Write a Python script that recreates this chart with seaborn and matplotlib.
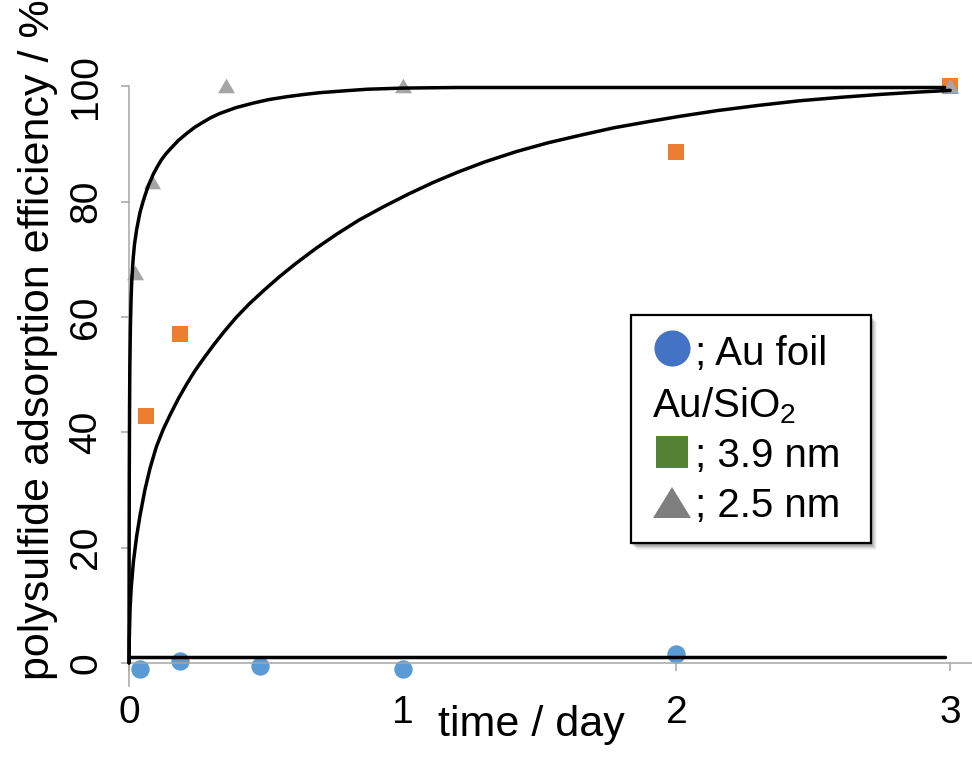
import matplotlib
matplotlib.use("Agg")
import matplotlib.pyplot as plt
import pandas as pd
import seaborn as sns
from matplotlib.patches import Rectangle, Polygon
from matplotlib.lines import Line2D

# --- measured adsorption efficiency (%) vs time (day) ---
foil_t = [0.04, 0.186, 0.48, 1.0, 2.0]
foil_eff = [-1.1, 0.3, -0.5, -1.1, 1.6]

nm39_t = [0.062, 0.186, 2.0, 3.0]
nm39_eff = [42.8, 57.1, 88.6, 100.0]

nm25_t = [0.022, 0.083, 0.354, 1.0, 3.0]
nm25_eff = [67.6, 83.4, 100.0, 100.0, 100.0]

# --- fitted kinetic curves ---
fit25_t = [0.0, 0.0005, 0.001, 0.002, 0.003, 0.005, 0.0075, 0.010, 0.015, 0.020,
           0.028, 0.040, 0.050, 0.058, 0.070, 0.089, 0.105, 0.119, 0.135, 0.150,
           0.180, 0.210, 0.240, 0.271, 0.300, 0.332, 0.390, 0.454, 0.510, 0.576,
           0.640, 0.697, 0.780, 0.870, 1.0, 1.2, 1.5, 2.0, 2.5, 2.98]
fit25_eff = [0.0, 20.0, 32.0, 44.0, 51.0, 58.0, 63.0, 66.2, 70.0, 72.6,
             75.2, 78.1, 79.8, 81.0, 82.7, 84.8, 86.2, 87.3, 88.3, 89.1,
             90.6, 91.8, 92.9, 93.8, 94.6, 95.3, 96.3, 97.1, 97.7, 98.2,
             98.6, 98.9, 99.2, 99.5, 99.7, 99.8, 99.8, 99.8, 99.8, 99.8]

fit39_t = [0.0, 0.001, 0.002, 0.004, 0.008, 0.016, 0.028, 0.040, 0.058, 0.077,
           0.100, 0.125, 0.150, 0.180, 0.210, 0.240, 0.271, 0.310, 0.350, 0.393,
           0.440, 0.490, 0.550, 0.610, 0.686, 0.760, 0.840, 0.929, 1.020, 1.110,
           1.200, 1.300, 1.416, 1.530, 1.647, 1.770, 1.900, 2.012, 2.150, 2.300,
           2.450, 2.600, 2.743, 2.880, 3.0]
fit39_eff = [0.0, 4.0, 6.0, 9.5, 13.0, 17.5, 22.0, 25.5, 30.0, 33.8,
             37.5, 40.5, 43.0, 45.8, 48.3, 50.6, 52.7, 55.2, 57.6, 60.0,
             62.3, 64.5, 67.0, 69.3, 72.0, 74.4, 76.8, 79.1, 81.3, 83.3,
             85.1, 86.9, 88.7, 90.2, 91.5, 92.8, 93.9, 94.8, 95.8, 96.7,
             97.5, 98.1, 98.6, 99.0, 99.3]

foil_fit_t = [0.0, 2.98]
foil_fit_eff = [1.0, 1.0]

x_ticks = [0, 1, 2, 3]
y_ticks = [0, 20, 40, 60, 80, 100]

sns.set_theme(style="white")
plt.rcParams["font.family"] = ["Liberation Sans", "DejaVu Sans"]
plt.rcParams["mathtext.fontset"] = "custom"
plt.rcParams["mathtext.rm"] = "Liberation Sans"
plt.rcParams["mathtext.it"] = "Liberation Sans:italic"
plt.rcParams["text.color"] = "black"
plt.rcParams["axes.labelcolor"] = "black"
plt.rcParams["xtick.color"] = "black"
plt.rcParams["ytick.color"] = "black"

W, H = 972, 762
fig = plt.figure(figsize=(W / 100, H / 100), dpi=100)
fig.patch.set_facecolor("white")

# axes placed so that x=0..3.08 spans 129..972 px and y=-4..110 spans 686..28.7 px
ax = fig.add_axes([129 / W, (H - 686) / H, (W - 129) / W, (686 - 28.7) / H])
ax.set_facecolor("white")
ax.set_xlim(0, 3.08)
ax.set_ylim(-4, 110)

tri = [(-1.0, -0.8), (1.0, -0.8), (0.0, 0.92)]

df_foil = pd.DataFrame({"t": foil_t, "eff": foil_eff})
df_39 = pd.DataFrame({"t": nm39_t, "eff": nm39_eff})
df_25 = pd.DataFrame({"t": nm25_t, "eff": nm25_eff})

sns.scatterplot(data=df_foil, x="t", y="eff", ax=ax, color="#5B9BD5", marker="o",
                s=175, linewidth=0, zorder=2, clip_on=False)
sns.scatterplot(data=df_39, x="t", y="eff", ax=ax, color="#ED7D31", marker="s",
                s=130, linewidth=0, zorder=2, clip_on=False)
sns.scatterplot(data=df_25, x="t", y="eff", ax=ax, color="#A5A5A5", marker=tri,
                s=150, linewidth=0, zorder=2, clip_on=False)

for tt, ee in [(fit25_t, fit25_eff), (fit39_t, fit39_eff), (foil_fit_t, foil_fit_eff)]:
    sns.lineplot(x=tt, y=ee, ax=ax, color="black", linewidth=2.5, sort=False,
                 estimator=None, zorder=3, clip_on=False)

# axis styling
axis_grey = "#A6A6A6"
for side in ("top", "right"):
    ax.spines[side].set_visible(False)
ax.spines["left"].set_color(axis_grey)
ax.spines["bottom"].set_color(axis_grey)
ax.spines["left"].set_linewidth(1.1)
ax.spines["bottom"].set_linewidth(1.1)
ax.spines["bottom"].set_position(("data", 0))
ax.spines["left"].set_bounds(-4, 100)

ax.set_xticks(x_ticks)
ax.set_xticklabels([str(v) for v in x_ticks])
ax.set_yticks(y_ticks)
ax.set_yticklabels([str(v) for v in y_ticks])
ax.tick_params(axis="x", direction="out", length=6, width=1.1, color=axis_grey,
               labelsize=28, pad=17, labelcolor="black", bottom=True)
ax.tick_params(axis="y", direction="out", length=6, width=1.1, color=axis_grey,
               labelsize=28, pad=12, labelcolor="black", labelrotation=90, left=True)
for lab in ax.get_yticklabels():
    lab.set_verticalalignment("center")

ax.set_xlabel("time / day", fontsize=31, color="black")
ax.xaxis.set_label_coords(531 / W, (H - 705) / H, transform=fig.transFigure)
ax.set_ylabel("polysulfide adsorption efficiency / %", fontsize=31, color="black")
ax.yaxis.set_label_coords(58 / W, (H - 340) / H, transform=fig.transFigure)

# legend panel drawn in pixel space
lg = fig.add_axes([0, 0, 1, 1], zorder=5)
lg.set_xlim(0, W)
lg.set_ylim(H, 0)
lg.axis("off")
lg.patch.set_alpha(0)

bx0, by0, bx1, by1 = 631, 315, 871, 543
for off, a in [(8, 0.04), (7, 0.05), (6, 0.07), (5, 0.09), (4, 0.11), (3, 0.12)]:
    lg.add_patch(Rectangle((bx0 + off - 2, by0 + off - 1), bx1 - bx0, by1 - by0,
                           facecolor="black", edgecolor="none", alpha=a))
lg.add_patch(Rectangle((bx0, by0), bx1 - bx0, by1 - by0, facecolor="white",
                       edgecolor="black", linewidth=1.6))

lg.add_line(Line2D([672], [348], marker="o", markersize=26, color="#4472C4",
                   markeredgewidth=0, linestyle="none"))
lg.add_patch(Rectangle((656, 436), 32, 32, facecolor="#548235", edgecolor="none"))
lg.add_patch(Polygon([(653, 518), (691, 518), (672, 487)], closed=True,
                     facecolor="#7F7F7F", edgecolor="none"))

leg_fs = 29
lg.text(695, 365, "; Au foil", fontsize=leg_fs, va="baseline", ha="left", color="black")
lg.text(652, 417, "Au/SiO$_2$", fontsize=leg_fs, va="baseline", ha="left", color="black")
lg.text(695, 467, "; 3.9 nm", fontsize=leg_fs, va="baseline", ha="left", color="black")
lg.text(695, 517, "; 2.5 nm", fontsize=leg_fs, va="baseline", ha="left", color="black")

fig.savefig("out.png", dpi=100, facecolor="white")
